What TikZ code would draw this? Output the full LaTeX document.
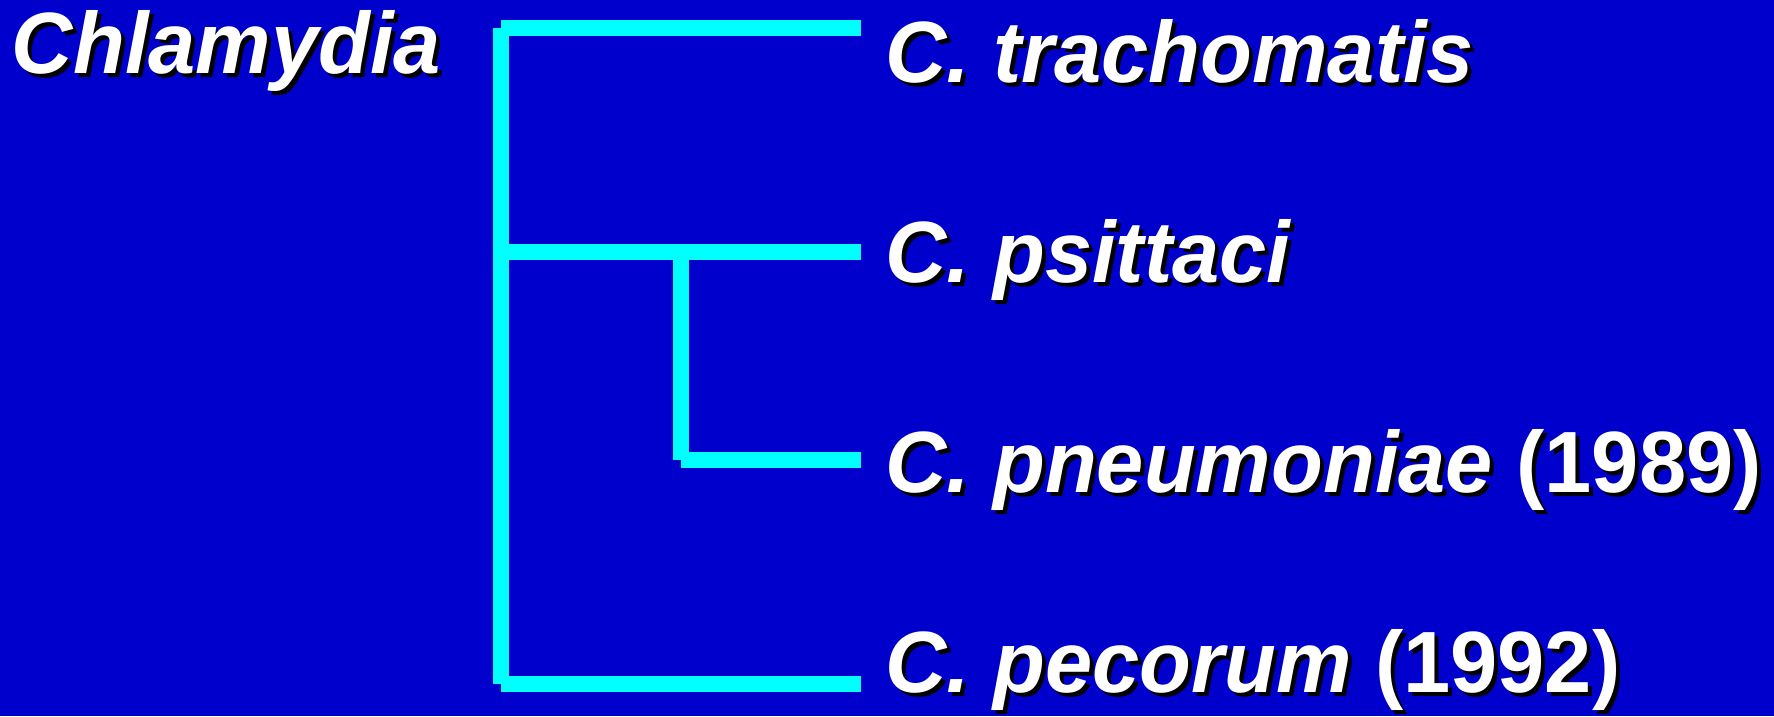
\documentclass[tikz,border=0pt]{standalone}
\usepackage{fontspec}
\setmainfont[FakeStretch=0.975]{Liberation Sans}
\definecolor{slidebg}{RGB}{0,0,204}
\definecolor{branch}{RGB}{0,255,255}
\tikzset{
  branchline/.style={draw=branch, line width=16pt, line cap=butt},
  lbl/.style={anchor=base west, inner sep=0pt, outer sep=0pt, text=white,
    font=\fontsize{87}{100}\selectfont\bfseries\itshape},
  lblshadow/.style={lbl, text=black},
}
% white label with a black drop shadow: name, x, y, text
\newcommand\shadowlabel[4]{%
  \node[lblshadow] at (#2+4,#3+4) {#4};
  \node[lbl] (#1) at (#2,#3) {#4};}
\begin{document}
\begin{tikzpicture}[x=1pt, y=-1pt]
  \fill[slidebg] (0,0) rectangle (1774,716);
  \useasboundingbox (0,0) rectangle (1774,716);

  % tree junctions and leaf ends
  \coordinate (top)   at (501,28);
  \coordinate (mid)   at (501,252);
  \coordinate (bot)   at (501,684);
  \coordinate (sub)   at (681,252);
  \coordinate (subb)  at (681,460);
  \coordinate (leafA) at (861,28);
  \coordinate (leafB) at (861,252);
  \coordinate (leafC) at (861,460);
  \coordinate (leafD) at (861,684);

  \path[branchline] (top) -- (bot);
  \path[branchline] (top) -- (leafA);
  \path[branchline] (mid) -- (leafB);
  \path[branchline] (sub) -- (subb);
  \path[branchline] (subb) -- (leafC);
  \path[branchline] (bot) -- (leafD);

  \shadowlabel{genus}{12}{73}{Chlamydia}
  \shadowlabel{trach}{885}{82}{C. trachomatis}
  \shadowlabel{psitt}{885}{282}{C. psittaci}
  \shadowlabel{pneum}{885}{492}{C. pneumoniae {\upshape(1989)}}
  \shadowlabel{pecor}{885}{692}{C. pecorum {\upshape(1992)}}
\end{tikzpicture}
\end{document}
